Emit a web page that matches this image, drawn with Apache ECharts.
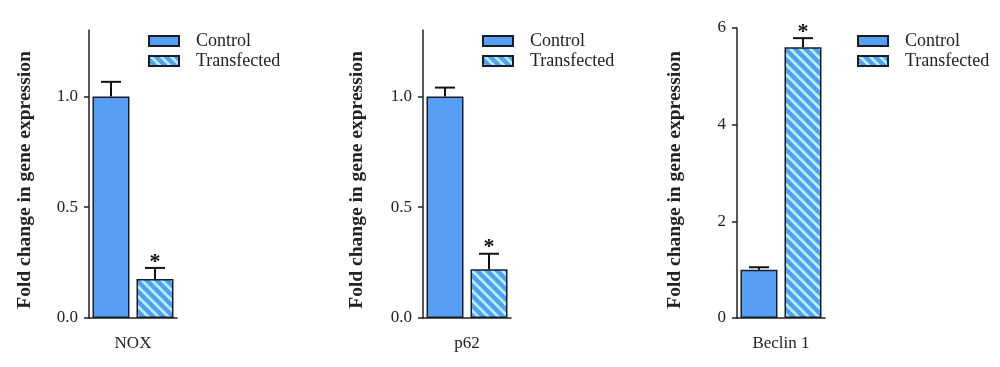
<!DOCTYPE html>
<html>
<head>
<meta charset="utf-8">
<script src="https://cdn.jsdelivr.net/npm/echarts@6/dist/echarts.min.js"></script>
<style>
html,body{margin:0;padding:0;background:#fff;}
#chart{width:1000px;height:367px;}
</style>
</head>
<body>
<div id="chart"></div>
<script>
// ---- data ----
const genes = ['NOX', 'p62', 'Beclin 1'];
const seriesNames = ['Control', 'Transfected'];
const controlMean = [1.0, 1.0, 1.0];
const controlErr = [0.066, 0.04, 0.05];
const transfectedMean = [0.176, 0.22, 5.6];
const transfectedErr = [0.05, 0.07, 0.19];
const significant = [1, 1, 1];
const yMax = [1.3, 1.3, 6];
const yTickValues = [[0, 0.5, 1.0], [0, 0.5, 1.0], [0, 2, 4, 6]];
const yTickDecimals = [1, 1, 0];
const yTitle = 'Fold change in gene expression';

// ---- layout / style ----
const FONT = 'Liberation Serif';
const gridLeft = [89, 423, 737];
const gridTop = [30, 30, 28];
const gridW = 88;
const baseY = 318;
const nameGaps = [54, 56, 52];
const nameShift = [12, 12, 14];
const legendLeft = [148, 482, 857];
const BAR_W = 37, BAR_GAP_PX = 7;
const BLUE = '#579ff5', EDGE = '#1c1c28', AXIS = '#222';

function makePattern() {
  const P = 10, w = 4;
  const c = document.createElement('canvas');
  c.width = P; c.height = P;
  const ctx = c.getContext('2d');
  const img = ctx.createImageData(P, P);
  const b = [0x57, 0x9f, 0xf5], l = [0xaa, 0xee, 0xf6];
  for (let y = 0; y < P; y++) {
    for (let x = 0; x < P; x++) {
      const d = ((x - y) % P + P) % P;
      const col = d < w ? l : b;
      const i = (y * P + x) * 4;
      img.data[i] = col[0]; img.data[i + 1] = col[1]; img.data[i + 2] = col[2]; img.data[i + 3] = 255;
    }
  }
  ctx.putImageData(img, 0, 0);
  return c;
}
const pattern = { image: makePattern(), repeat: 'repeat' };

const grids = [], xAxes = [], yAxes = [], series = [], legends = [];
genes.forEach((g, i) => {
  grids.push({ left: gridLeft[i], top: gridTop[i], width: gridW, height: baseY - gridTop[i] });
  xAxes.push({
    type: 'category', gridIndex: i, data: [g],
    axisLine: { lineStyle: { color: AXIS, width: 1.5 } },
    axisTick: { alignWithLabel: true, length: 7, lineStyle: { color: AXIS, width: 1.5 } },
    axisLabel: { fontFamily: FONT, fontSize: 17, color: '#222', margin: 17 }
  });
  yAxes.push({
    type: 'value', gridIndex: i, min: 0, max: yMax[i],
    name: yTitle, nameLocation: 'middle', nameGap: nameGaps[i],
    nameTextStyle: { fontFamily: FONT, fontSize: 19.5, fontWeight: 'bold', color: '#222', padding: [0, nameShift[i], 0, 0] },
    axisLine: { show: true, lineStyle: { color: AXIS, width: 1.5 } },
    axisTick: { show: true, length: 5, customValues: yTickValues[i], lineStyle: { color: AXIS, width: 1.5 } },
    axisLabel: { fontFamily: FONT, fontSize: 17, color: '#222', margin: 11,
      customValues: yTickValues[i],
      formatter: v => Number(v).toFixed(yTickDecimals[i]) },
    splitLine: { show: false }
  });
  series.push({
    type: 'bar', name: seriesNames[0], xAxisIndex: i, yAxisIndex: i,
    data: [controlMean[i]], barWidth: BAR_W, barGap: (BAR_GAP_PX / BAR_W * 100).toFixed(1) + '%',
    itemStyle: { color: BLUE, borderColor: EDGE, borderWidth: 1.5 }
  });
  series.push({
    type: 'bar', name: seriesNames[1], xAxisIndex: i, yAxisIndex: i,
    data: [transfectedMean[i]], barWidth: BAR_W,
    itemStyle: { color: pattern, borderColor: EDGE, borderWidth: 1.5 }
  });
  series.push({
    type: 'custom', xAxisIndex: i, yAxisIndex: i, z: 10, silent: true,
    data: [
      [0, controlMean[i], controlMean[i] + controlErr[i], 0, -1],
      [0, transfectedMean[i], transfectedMean[i] + transfectedErr[i], significant[i], 1]
    ],
    renderItem: (params, api) => {
      const v = api.value(1), e = api.value(2), s = api.value(3), side = api.value(4);
      const p0 = api.coord([0, v]), p1 = api.coord([0, e]);
      const x = p0[0] + side * (BAR_W + BAR_GAP_PX) / 2;
      const st = { stroke: '#111', lineWidth: 2 };
      const children = [
        { type: 'line', shape: { x1: x, y1: p0[1], x2: x, y2: p1[1] }, style: st },
        { type: 'line', shape: { x1: x - 10, y1: p1[1], x2: x + 10, y2: p1[1] }, style: st }
      ];
      if (s) children.push({ type: 'text', style: { text: '*', x: x, y: p1[1] + 5, align: 'center', verticalAlign: 'bottom', font: 'bold 22px ' + FONT, fill: '#111' } });
      return { type: 'group', children };
    }
  });
  legends.push({
    data: seriesNames, orient: 'vertical', left: legendLeft[i], top: 32, padding: 0,
    itemWidth: 30, itemHeight: 10, itemGap: 2, selectedMode: false,
    icon: 'rect',
    itemStyle: { borderWidth: 2, borderColor: EDGE },
    textStyle: { fontFamily: FONT, fontSize: 18, color: '#222', padding: [0, 0, 0, 12] }
  });
});

const chart = echarts.init(document.getElementById('chart'), null, { renderer: 'canvas' });
chart.setOption({
  animation: false,
  backgroundColor: '#fff',
  grid: grids, xAxis: xAxes, yAxis: yAxes, series, legend: legends
});
</script>
</body>
</html>
